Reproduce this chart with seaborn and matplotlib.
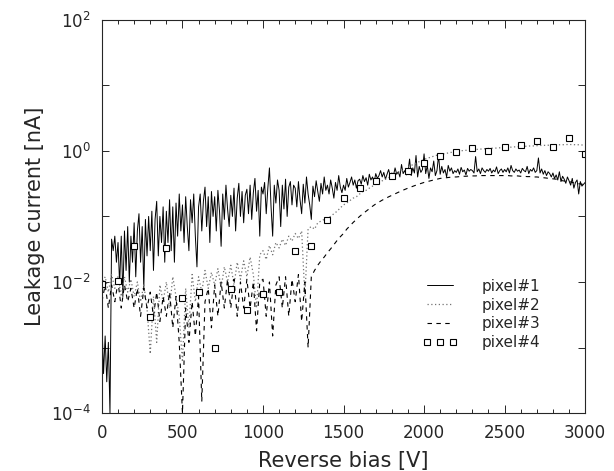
import numpy as np
import pandas as pd
import seaborn as sns
import matplotlib
matplotlib.use('Agg')
import matplotlib.pyplot as plt

# reverse bias grids [V]
bias_fine = np.arange(0, 3001, 10)
bias_mid = np.arange(0, 3001, 20)
bias_coarse = np.arange(0, 3001, 100)

# pixel#1, leakage current [nA], every 10 V
pixel1 = [
    0.0025, 0.0004, 0.0015, 0.0003, 0.0012, 0.0001, 0.045, 0.03, 0.05, 0.02,
    0.04, 0.009, 0.05, 0.006, 0.06, 0.015, 0.07, 0.01, 0.05, 0.02,
    0.08, 0.012, 0.06, 0.11, 0.02, 0.07, 0.008, 0.09, 0.025, 0.1,
    0.03, 0.12, 0.015, 0.09, 0.17, 0.025, 0.1, 0.04, 0.14, 0.02,
    0.12, 0.04, 0.18, 0.03, 0.14, 0.02, 0.16, 0.05, 0.22, 0.06,
    0.15, 0.04, 0.2, 0.07, 0.03, 0.18, 0.08, 0.22, 0.05, 0.017,
    0.14, 0.22, 0.06, 0.17, 0.28, 0.07, 0.2, 0.04, 0.24, 0.1,
    0.2, 0.06, 0.25, 0.12, 0.035, 0.22, 0.09, 0.3, 0.13, 0.07,
    0.21, 0.1, 0.27, 0.06, 0.19, 0.32, 0.1, 0.24, 0.08, 0.21,
    0.26, 0.11, 0.3, 0.09, 0.23, 0.38, 0.12, 0.25, 0.05, 0.28,
    0.22, 0.33, 0.11, 0.27, 0.55, 0.14, 0.05, 0.3, 0.16, 0.36,
    0.25, 0.07, 0.3, 0.13, 0.37, 0.1, 0.28, 0.34, 0.15, 0.3,
    0.27, 0.14, 0.34, 0.18, 0.11, 0.31, 0.16, 0.4, 0.22, 0.15,
    0.09, 0.29, 0.2, 0.35, 0.24, 0.17, 0.32, 0.22, 0.4, 0.25,
    0.3, 0.22, 0.36, 0.27, 0.19, 0.33, 0.25, 0.42, 0.28, 0.23,
    0.3, 0.25, 0.38, 0.28, 0.33, 0.4, 0.3, 0.36, 0.27, 0.35,
    0.37, 0.31, 0.42, 0.34, 0.39, 0.3, 0.44, 0.36, 0.4, 0.33,
    0.45, 0.38, 0.42, 0.5, 0.4, 0.47, 0.37, 0.44, 0.52, 0.41,
    0.46, 0.42, 0.55, 0.44, 0.48, 0.4, 0.62, 0.45, 0.5, 0.43,
    0.48, 0.75, 0.42, 0.55, 0.46, 0.85, 0.4, 0.58, 0.47, 0.52,
    0.9, 0.45, 0.6, 0.38, 0.55, 0.48, 0.7, 0.42, 0.5, 0.85,
    0.44, 0.58, 0.46, 0.52, 0.4, 0.6, 0.49, 0.55, 0.45, 0.5,
    0.47, 0.53, 0.44, 0.56, 0.48, 0.51, 0.43, 0.54, 0.49, 0.52,
    0.5, 0.46, 0.82, 0.48, 0.53, 0.45, 0.55, 0.5, 0.47, 0.52,
    0.49, 0.54, 0.46, 0.51, 0.48, 0.57, 0.45, 0.5, 0.53, 0.47,
    0.52, 0.48, 0.55, 0.46, 0.6, 0.5, 0.47, 0.53, 0.49, 0.51,
    0.46, 0.54, 0.5, 0.48, 0.58, 0.45, 0.52, 0.49, 0.55, 0.47,
    0.5, 0.78, 0.46, 0.53, 0.44, 0.5, 0.42, 0.48, 0.45, 0.4,
    0.46, 0.38, 0.43, 0.36, 0.48, 0.34, 0.41, 0.37, 0.32, 0.4,
    0.35, 0.3, 0.38, 0.27, 0.33, 0.36, 0.22, 0.34, 0.29, 0.31,
    0.33,
]

# pixel#2, every 20 V
pixel2 = [
    0.009, 0.012, 0.007, 0.013, 0.008,
    0.012, 0.006, 0.012, 0.007, 0.011,
    0.006, 0.01, 0.005, 0.009, 0.004,
    0.0008, 0.006, 0.0012, 0.009, 0.005,
    0.01, 0.004, 0.012, 0.006, 0.003,
    0.0006, 0.008, 0.002, 0.013, 0.005,
    0.012, 0.007, 0.015, 0.008, 0.014,
    0.009, 0.016, 0.008, 0.017, 0.01,
    0.018, 0.009, 0.02, 0.011, 0.021,
    0.012, 0.024, 0.013, 0.004, 0.026,
    0.03, 0.022, 0.036, 0.026, 0.04,
    0.033, 0.045, 0.036, 0.05, 0.042,
    0.055, 0.046, 0.06, 0.006, 0.065,
    0.07, 0.064, 0.08, 0.085, 0.09,
    0.095, 0.1, 0.11, 0.12, 0.135,
    0.15, 0.16, 0.175, 0.19, 0.2,
    0.22, 0.24, 0.25, 0.27, 0.29,
    0.31, 0.33, 0.35, 0.37, 0.39,
    0.42, 0.44, 0.47, 0.5, 0.53,
    0.56, 0.6, 0.63, 0.67, 0.7,
    0.74, 0.77, 0.8, 0.83, 0.86,
    0.88, 0.9, 0.92, 0.94, 0.96,
    0.98, 1.0, 1.01, 1.02, 1.03,
    1.04, 1.05, 1.06, 1.07, 1.08,
    1.09, 1.1, 1.1, 1.11, 1.12,
    1.13, 1.14, 1.14, 1.15, 1.16,
    1.17, 1.17, 1.18, 1.19, 1.19,
    1.2, 1.21, 1.21, 1.22, 1.22,
    1.23, 1.23, 1.24, 1.24, 1.25,
    1.25, 1.25, 1.24, 1.24, 1.23,
    1.22,
]

# pixel#3, every 20 V
pixel3 = [
    0.005, 0.009, 0.004, 0.009, 0.005,
    0.01, 0.004, 0.009, 0.005, 0.008,
    0.004, 0.008, 0.003, 0.008, 0.004,
    0.007, 0.003, 0.007, 0.0025, 0.006,
    0.003, 0.007, 0.002, 0.006, 0.0012,
    0.0001, 0.004, 0.0012, 0.005, 0.0015,
    0.006, 0.00015, 0.005, 0.008, 0.002,
    0.009, 0.003, 0.01, 0.004, 0.011,
    0.004, 0.011, 0.003, 0.01, 0.004,
    0.011, 0.004, 0.01, 0.0018, 0.01,
    0.011, 0.003, 0.01, 0.0015, 0.009,
    0.012, 0.004, 0.012, 0.003, 0.011,
    0.005, 0.013, 0.0025, 0.01, 0.001,
    0.012, 0.015, 0.018, 0.021, 0.024,
    0.028, 0.032, 0.037, 0.043, 0.049,
    0.055, 0.064, 0.072, 0.081, 0.09,
    0.1, 0.11, 0.12, 0.131, 0.143,
    0.155, 0.166, 0.177, 0.188, 0.199,
    0.21, 0.222, 0.234, 0.246, 0.258,
    0.27, 0.282, 0.294, 0.306, 0.318,
    0.33, 0.34, 0.35, 0.36, 0.37,
    0.38, 0.385, 0.39, 0.395, 0.4,
    0.4, 0.405, 0.41, 0.41, 0.415,
    0.415, 0.415, 0.42, 0.42, 0.42,
    0.42, 0.42, 0.42, 0.42, 0.42,
    0.42, 0.42, 0.415, 0.415, 0.415,
    0.41, 0.41, 0.405, 0.405, 0.4,
    0.4, 0.395, 0.39, 0.385, 0.38,
    0.375, 0.37, 0.36, 0.35, 0.345,
    0.34, 0.33, 0.32, 0.315, 0.31,
    0.3,
]

# pixel#4, every 100 V
pixel4 = [
    0.0092, 0.0105, 0.035, 0.0029, 0.033, 0.0056, 0.0071, 0.00098,
    0.0079, 0.0038, 0.0065, 0.0071, 0.03, 0.035, 0.087, 0.19,
    0.27, 0.35, 0.41, 0.5, 0.66, 0.85, 0.95, 1.1,
    0.99, 1.15, 1.23, 1.41, 1.15, 1.58, 0.91,
]

sns.set_style('ticks')
plt.rcParams['font.family'] = ['DejaVu Sans']
plt.rcParams['axes.linewidth'] = 0.8

fig = plt.figure(figsize=(6.14, 4.71), dpi=100)
ax = fig.add_axes([0.166, 0.123, 0.787, 0.835])

sns.lineplot(x=bias_fine, y=pixel1, ax=ax, color='black', lw=0.7,
             estimator=None, sort=False, label='pixel#1')
sns.lineplot(x=bias_mid, y=pixel2, ax=ax, color='0.45', lw=0.9,
             estimator=None, sort=False, label='pixel#2', linestyle=(0, (1, 2)))
sns.lineplot(x=bias_mid, y=pixel3, ax=ax, color='black', lw=0.8,
             estimator=None, sort=False, label='pixel#3', linestyle=(0, (4, 4)))
sns.lineplot(x=bias_coarse, y=pixel4, ax=ax, color='black', lw=0,
             estimator=None, sort=False, label='pixel#4', linestyle='none',
             marker='s', markersize=4, markerfacecolor='white',
             markeredgecolor='black', markeredgewidth=0.8)

ax.set_yscale('log')
ax.set_xlim(0, 3000)
ax.set_ylim(1e-4, 1e2)

ax.set_xticks([0, 500, 1000, 1500, 2000, 2500, 3000])
ax.set_xticks(np.arange(0, 3001, 100), minor=True)
ax.set_yticks([1e-4, 1e-2, 1e0, 1e2],
              [r'$10^{-4}$', r'$10^{-2}$', r'$10^{0}$', r'$10^{2}$'])
ax.set_yticks([1e-3, 1e-1, 1e1], minor=True)
ax.yaxis.set_minor_formatter(matplotlib.ticker.NullFormatter())

ax.tick_params(which='both', direction='in', top=True, right=True,
               labelsize=12, colors='0.15', width=0.7)
ax.tick_params(axis='x', which='major', length=6, pad=8)
ax.tick_params(axis='x', which='minor', length=3)
ax.tick_params(axis='y', which='both', length=5, pad=8)

ax.set_xlabel('Reverse bias [V]', fontsize=15, color='0.15', labelpad=6)
ax.set_ylabel('Leakage current [nA]', fontsize=15, color='0.15', labelpad=4)

ax.legend(loc='lower left', bbox_to_anchor=(0.635, 0.125), frameon=False,
          numpoints=3, handlelength=2.3, handletextpad=1.6, fontsize=11,
          labelspacing=0.25, labelcolor='0.15')

fig.savefig('out.png', dpi=100)
